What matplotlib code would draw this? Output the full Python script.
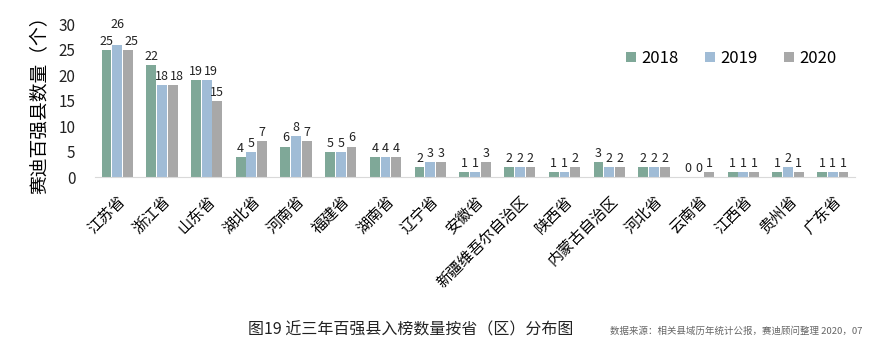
import numpy as np
import matplotlib.pyplot as plt

plt.rcParams['font.family'] = ['Noto Sans CJK SC', 'DejaVu Sans']

provinces = ['江苏省', '浙江省', '山东省', '湖北省', '河南省', '福建省', '湖南省', '辽宁省', '安徽省',
             '新疆维吾尔自治区', '陕西省', '内蒙古自治区', '河北省', '云南省', '江西省', '贵州省', '广东省']
y2018 = [25, 22, 19, 4, 6, 5, 4, 2, 1, 2, 1, 3, 2, 0, 1, 1, 1]
y2019 = [26, 18, 19, 5, 8, 5, 4, 3, 1, 2, 1, 2, 2, 0, 1, 2, 1]
y2020 = [25, 18, 15, 7, 7, 6, 4, 3, 3, 2, 2, 2, 2, 1, 1, 1, 1]
years = ['2018', '2019', '2020']
colors = ['#7fa898', '#a0bcd6', '#a8a8a8']

fig = plt.figure(figsize=(8.78, 3.5), dpi=100)
ax = fig.add_axes([0.108, 0.494, 0.866, 0.437])

x = np.arange(len(provinces))
w = 0.22
series = [y2018, y2019, y2020]
for i, (vals, lab, c) in enumerate(zip(series, years, colors)):
    bars = ax.bar(x + (i - 1) * 0.24, vals, width=w, color=c, label=lab)
    for j, (b, v) in enumerate(zip(bars, vals)):
        lift, shift = 0.4, 0.0
        # crowded two-digit labels: push the middle one up, or nudge right
        if i == 1 and v >= 10 and y2018[j] >= 10 and y2020[j] >= 10 \
                and abs(v - y2018[j]) <= 2 and abs(v - y2020[j]) <= 2:
            lift = 2.6
        elif i > 0 and v >= 10 and series[i - 1][j] >= 10 and abs(v - series[i - 1][j]) <= 2:
            shift = 0.09
        ax.text(b.get_x() + b.get_width() / 2 + shift, v + lift, str(v), ha='center', va='bottom',
                fontsize=9, color='#222222')

ax.set_xlim(-0.5, len(provinces) - 0.5)
ax.set_ylim(0, 30)
ax.set_yticks(range(0, 31, 5))
ax.tick_params(axis='y', length=0, labelsize=11, pad=14, colors='#222222')
ax.tick_params(axis='x', length=0, pad=11)
ax.set_xticks(x)
ax.set_xticklabels(provinces, rotation=45, ha='right', rotation_mode='anchor', fontsize=11)
for s in ['top', 'right', 'left']:
    ax.spines[s].set_visible(False)
ax.spines['bottom'].set_color('#d9d9d9')
ax.set_ylabel('赛迪百强县数量（个）', fontsize=13.5, labelpad=6)

ax.legend(loc='upper right', bbox_to_anchor=(0.995, 0.93), ncol=3, frameon=False, fontsize=12,
          handlelength=0.6, handleheight=0.6, handletextpad=0.3, columnspacing=1.6)

fig.text(0.468, 0.045, '图19 近三年百强县入榜数量按省（区）分布图', ha='center', fontsize=11.5, color='#222222')
fig.text(0.982, 0.045, '数据来源：相关县域历年统计公报，赛迪顾问整理 2020，07', ha='right', fontsize=6.8,
         color='#666666')

fig.savefig('out.png', dpi=100)
